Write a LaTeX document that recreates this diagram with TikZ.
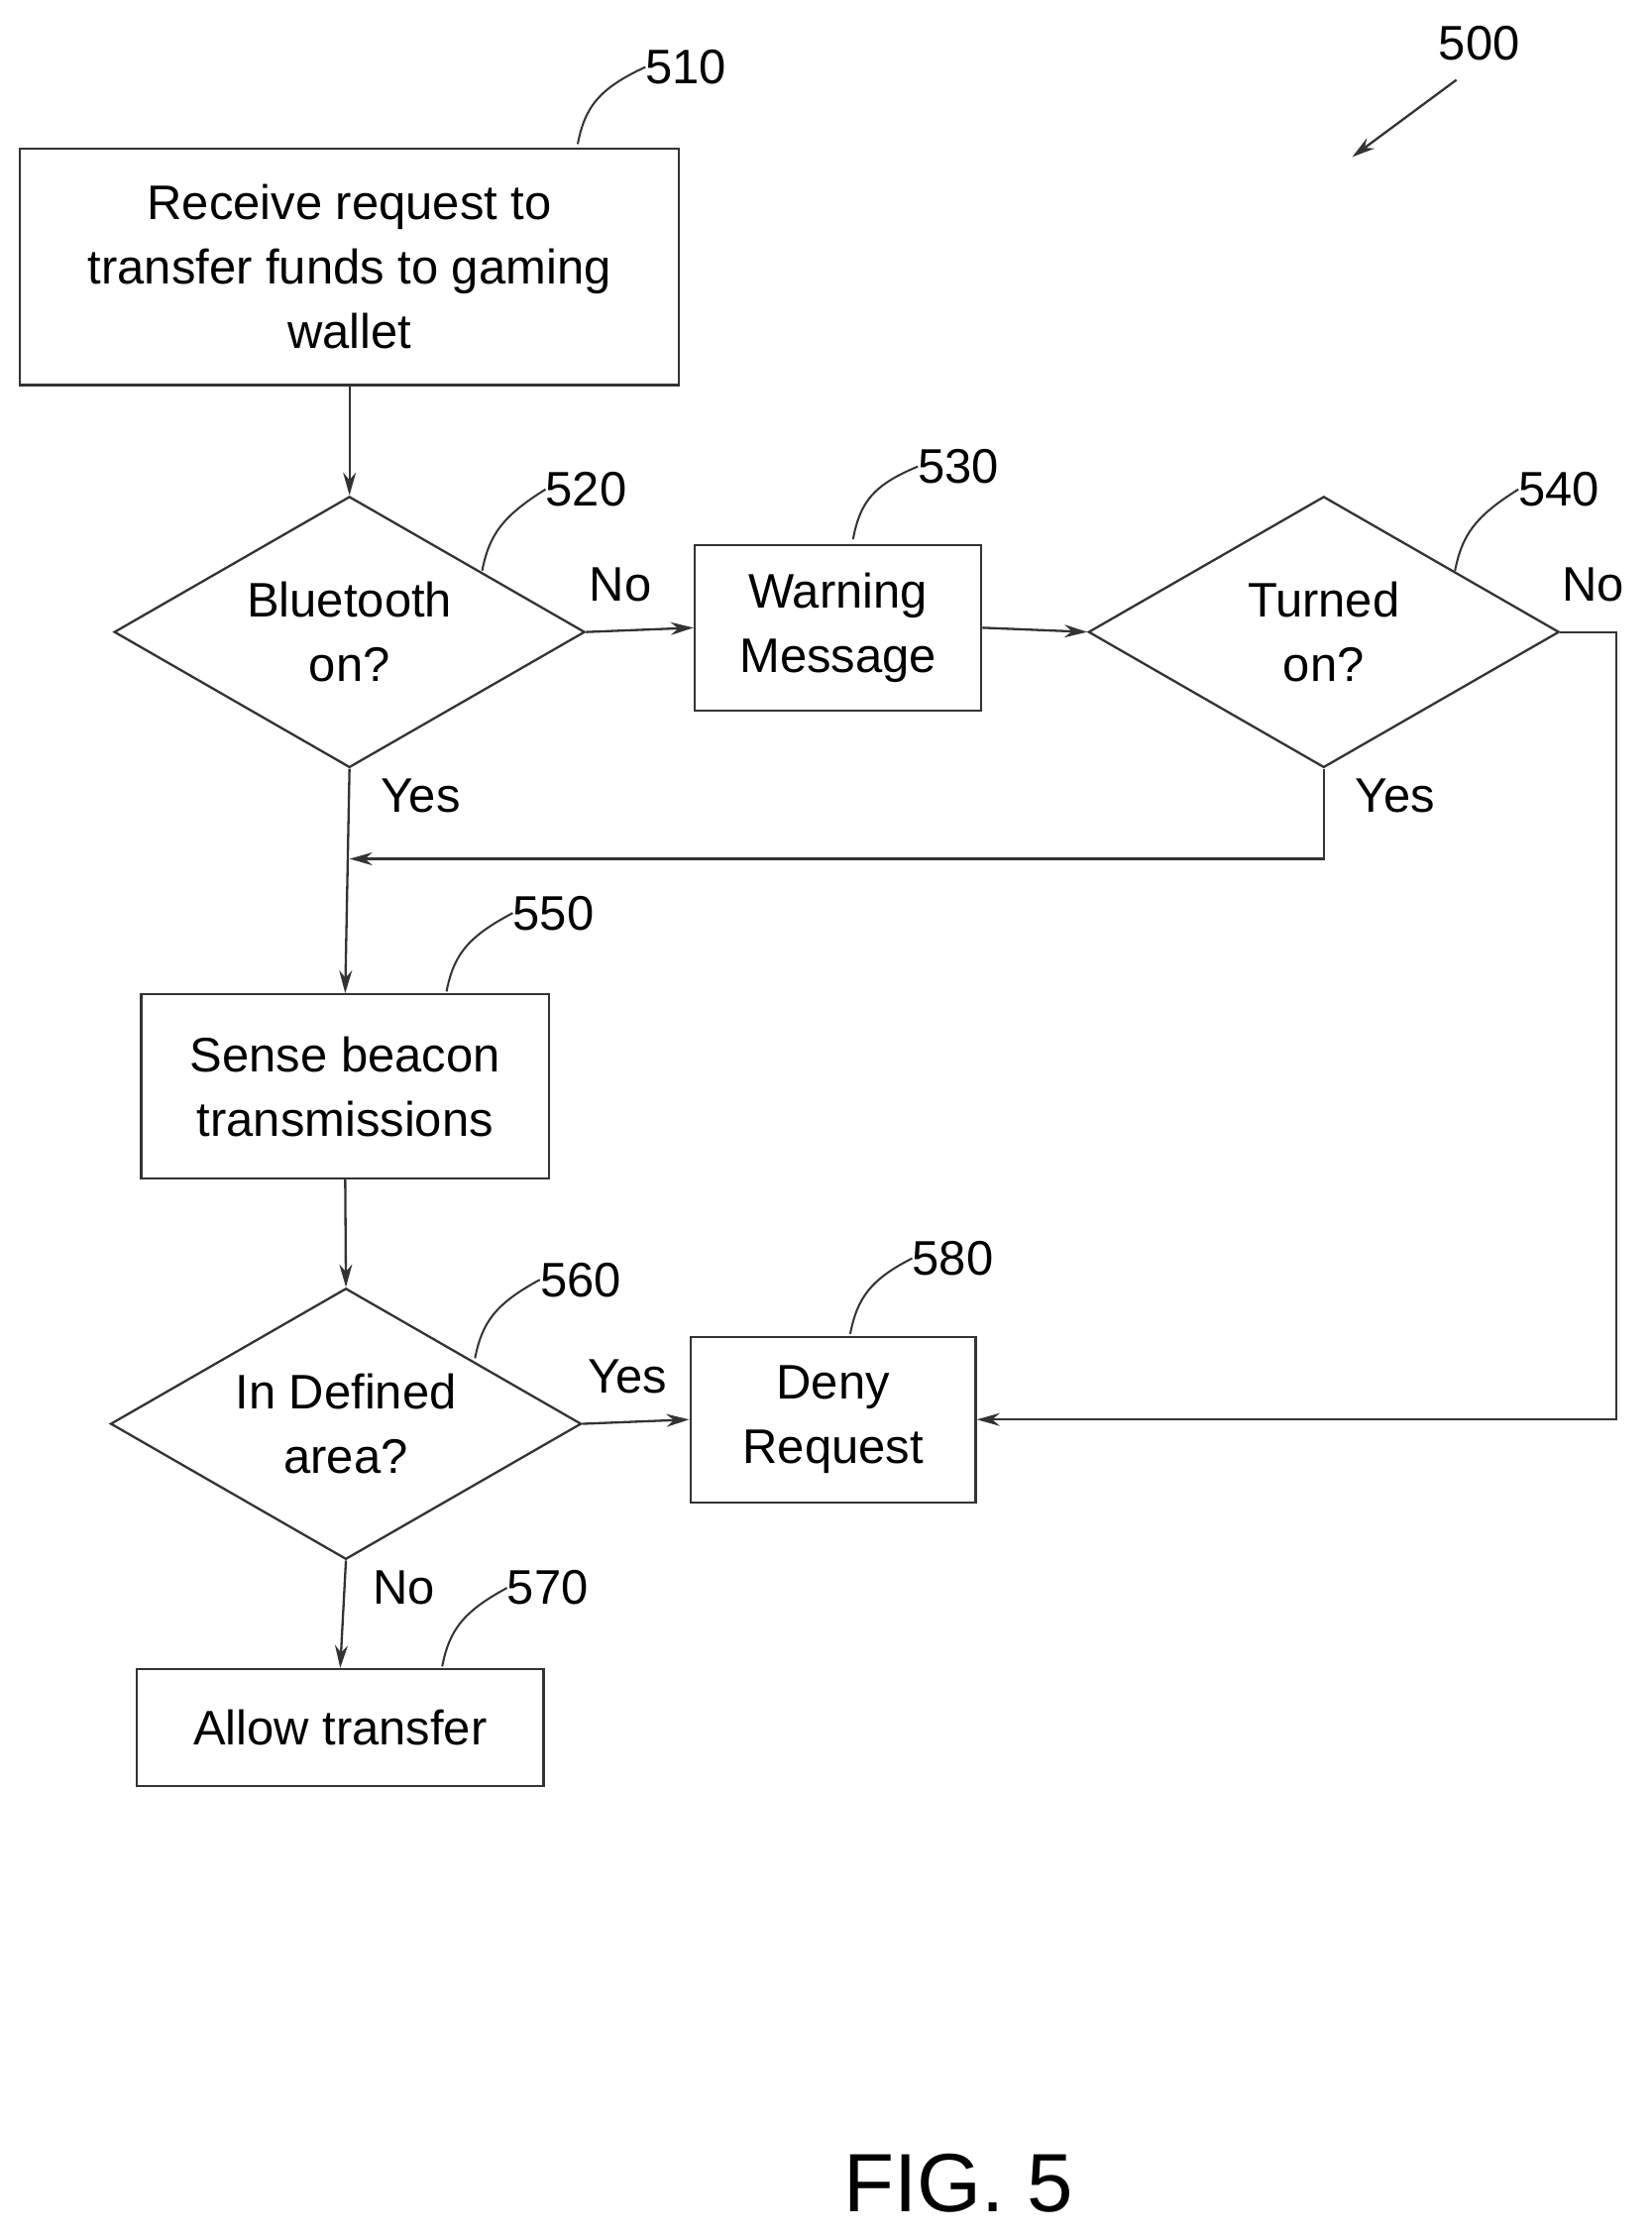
\documentclass[tikz,border=0pt]{standalone}
\usepackage{fontspec}
\setmainfont{Liberation Sans}
\usetikzlibrary{shapes.geometric,arrows.meta}
\begin{document}
\begin{tikzpicture}[x=1pt,y=-1pt,
  ln/.style={draw=black!80,line width=1.6pt},
  arr/.style={ln,-{Stealth[length=16pt,width=9pt]}},
  box/.style={ln,rectangle,inner sep=0pt,align=center,font=\fontsize{34}{45}\selectfont},
  dia/.style={ln,diamond,aspect=1.737,inner sep=0pt,minimum width=330pt,minimum height=190pt,align=center,font=\fontsize{34}{45}\selectfont},
  lab/.style={font=\fontsize{34}{40}\selectfont,inner sep=0pt},
  ref/.style={ln,line width=1.4pt}]
\useasboundingbox (0,0) rectangle (1158,1568);
\node[box,minimum width=462pt,minimum height=166pt] (n510) at (245,187) {Receive request to\\transfer funds to gaming\\wallet};
\node[dia] (n520) at (245,443) {Bluetooth\\on?};
\node[box,minimum width=201pt,minimum height=116pt] (n530) at (587.5,440) {Warning\\Message};
\node[dia] (n540) at (928,443) {Turned\\on?};
\node[box,minimum width=286pt,minimum height=129pt] (n550) at (242,761.5) {Sense beacon\\transmissions};
\node[dia] (n560) at (242.5,998) {In Defined\\area?};
\node[box,minimum width=200pt,minimum height=116pt] (n580) at (584,995) {Deny\\Request};
\node[box,minimum width=285pt,minimum height=82pt] (n570) at (238.5,1211) {Allow transfer};
\coordinate (j1) at (245,602);
\coordinate (c1) at (1133,443);
\coordinate (c2) at (1133,995);
\coordinate (c3) at (928,602);
\draw[arr] (n510.south) -- (n520.north);
\draw[arr] (n520.east) -- (n530.west);
\draw[arr] (n530.east) -- (n540.west);
\draw[arr] (n540.east) -- (c1) -- (c2) -- (n580.east);
\draw[arr] (n540.south) -- (c3) -- (j1);
\draw[arr] (n520.south) -- (n550.north);
\draw[arr] (n550.south) -- (n560.north);
\draw[arr] (n560.east) -- (n580.west);
\draw[arr] (n560.south) -- (n570.north);
\node[lab] (tNo1) at (435,410) {No};
\node[lab] (tNo2) at (1117,410) {No};
\node[lab] (tY1) at (295,558) {Yes};
\node[lab] (tY2) at (978,558) {Yes};
\node[lab] (tY3) at (440,965) {Yes};
\node[lab] (tNo3) at (283,1113) {No};
\node[lab] (r510) at (481,47) {510};
\node[lab] (r500) at (1037,30) {500};
\node[lab] (r520) at (411,343) {520};
\node[lab] (r530) at (672,327) {530};
\node[lab] (r540) at (1093,343) {540};
\node[lab] (r550) at (388,640) {550};
\node[lab] (r560) at (407,897) {560};
\node[lab] (r580) at (668,882) {580};
\node[lab] (r570) at (384,1113) {570};
\draw[ref] (405,101) .. controls (410,75) and (420,62) .. (r510.west);
\draw[ref] (338,400) .. controls (343,375) and (352,362) .. (r520.west);
\draw[ref] (598,378) .. controls (603,352) and (612,340) .. (r530.west);
\draw[ref] (1020,400) .. controls (1025,375) and (1034,362) .. (r540.west);
\draw[ref] (313,695) .. controls (318,670) and (327,657) .. (r550.west);
\draw[ref] (333,952) .. controls (338,927) and (347,914) .. (r560.west);
\draw[ref] (596,935) .. controls (601,910) and (610,897) .. (r580.west);
\draw[ref] (310,1168) .. controls (315,1143) and (324,1130) .. (r570.west);
\coordinate (a500) at (948,110);
\draw[arr] (1021,56) -- (a500);
\node[font=\fontsize{58}{60}\selectfont,inner sep=0pt] (fig) at (672,1530) {FIG. 5};
\end{tikzpicture}
\end{document}
